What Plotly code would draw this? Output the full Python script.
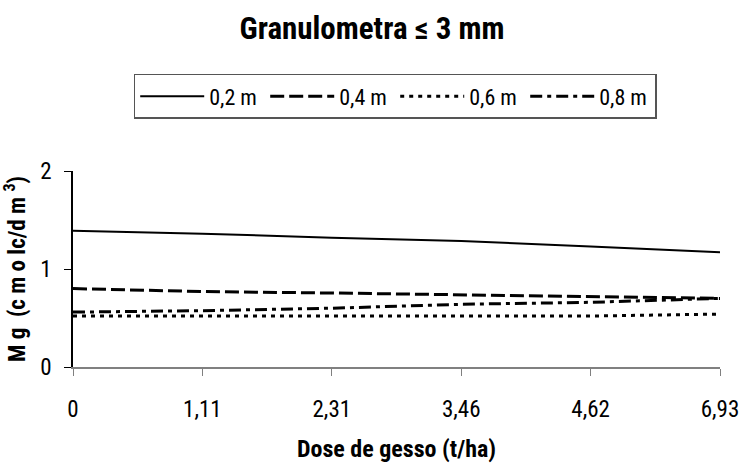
import plotly.graph_objects as go

doses = ["0", "1,11", "2,31", "3,46", "4,62", "6,93"]
depth_02 = [1.39, 1.36, 1.32, 1.285, 1.23, 1.17]
depth_04 = [0.80, 0.77, 0.755, 0.735, 0.715, 0.70]
depth_06 = [0.52, 0.52, 0.52, 0.52, 0.52, 0.54]
depth_08 = [0.56, 0.575, 0.60, 0.64, 0.66, 0.70]
series_names = ["0,2 m", "0,4 m", "0,6 m", "0,8 m"]
y_ticks = [0, 1, 2]

FONT = "Roboto Condensed"

fig = go.Figure()
styles = [
    dict(dash="solid", width=2),
    dict(dash="14px,5px", width=3),
    dict(dash="4px,5px", width=3),
    dict(dash="12px,5px,4px,5px", width=3),
]
for name, vals, st in zip(series_names, [depth_02, depth_04, depth_06, depth_08], styles):
    fig.add_trace(go.Scatter(x=doses, y=vals, mode="lines", name=name,
                             line=dict(color="black", **st)))

fig.update_layout(
    width=742, height=468,
    margin=dict(l=73, r=22, t=171, b=101, autoexpand=False),
    paper_bgcolor="white", plot_bgcolor="white",
    font=dict(family=FONT, color="black", size=21),
    title=dict(text="<b>Granulometra ≤ 3 mm</b>", x=372 / 742, xanchor="center",
               y=1 - 28 / 468, yanchor="middle", font=dict(size=31, family=FONT)),
    legend=dict(orientation="h", x=0.498, xanchor="center", y=1.495, yanchor="top",
                bordercolor="#555555", borderwidth=1.5, itemwidth=64,
                entrywidth=51, entrywidthmode="pixels",
                font=dict(size=22, family=FONT), tracegroupgap=0,
                traceorder="normal"),
    showlegend=True,
)
fig.update_xaxes(type="category", range=[0, 5], showgrid=False, zeroline=False,
                 automargin=False,
                 showline=True, linecolor="#808080", linewidth=1.5,
                 ticks="outside", ticklen=7, tickcolor="#808080",
                 ticklabelstandoff=14,
                 tickfont=dict(size=23, family=FONT),
                 title=dict(text="<b>Dose de gesso (t/ha)</b>", standoff=18,
                            font=dict(size=24, family=FONT)))
fig.update_yaxes(range=[0, 2], tickvals=y_ticks, showgrid=False, zeroline=False,
                 automargin=False,
                 showline=True, linecolor="black", linewidth=1.5,
                 ticks="outside", ticklen=7, tickcolor="black",
                 ticklabelstandoff=8,
                 tickfont=dict(size=23, family=FONT),
                 title=dict(text="<b>M g  (c m o lc/d m <sup>3</sup>)</b>", standoff=14,
                            font=dict(size=23, family=FONT)))

fig.write_html("out.html", config={"displayModeBar": False},
               post_script="document.body.style.margin='0';")
